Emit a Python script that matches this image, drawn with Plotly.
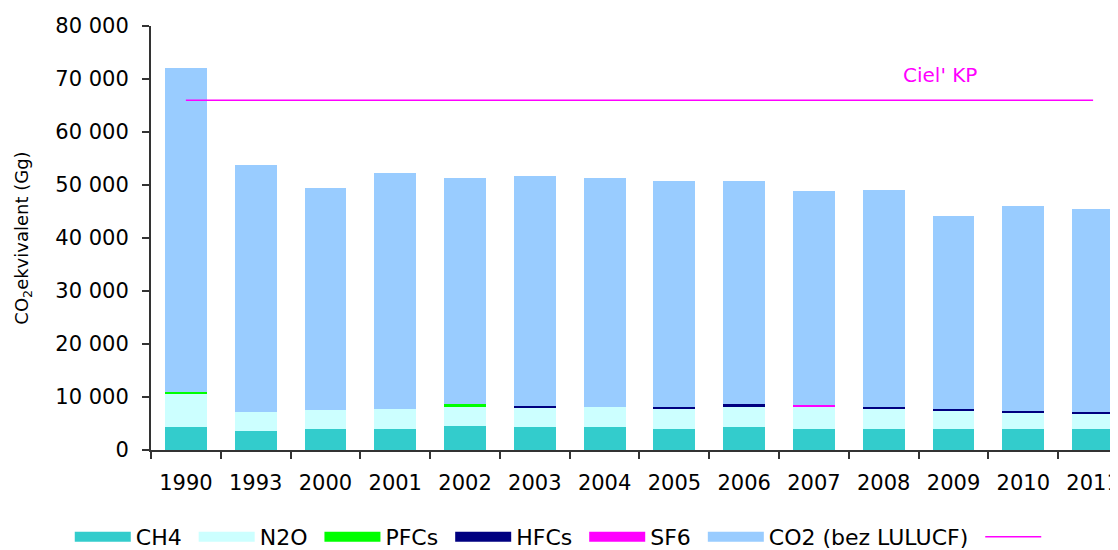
import plotly.graph_objects as go

years = ["1990", "1993", "2000", "2001", "2002", "2003", "2004", "2005", "2006", "2007", "2008", "2009", "2010", "2011"]
totals = [72000, 53700, 49400, 52300, 51400, 51700, 51300, 50700, 50700, 48800, 49100, 44100, 46100, 45400]
ch4 = [4300, 3600, 3900, 3900, 4500, 4300, 4300, 3900, 4300, 3900, 3900, 3900, 3900, 3900]
n2o = [6300, 3600, 3600, 3900, 3800, 3750, 3900, 4000, 4000, 4300, 3900, 3600, 3200, 2950]
pfcs = [300, 0, 0, 0, 300, 0, 0, 0, 0, 0, 0, 0, 0, 0]
hfcs = [0, 0, 0, 0, 0, 300, 0, 300, 300, 0, 300, 300, 300, 300]
sf6 = [0, 0, 0, 0, 0, 0, 0, 0, 0, 300, 0, 0, 0, 0]
co2 = [t - a - b - c - d - e for t, a, b, c, d, e in zip(totals, ch4, n2o, pfcs, hfcs, sf6)]
target = [66000] * len(years)

series = [
    ("CH4", ch4, "#33CCCC"),
    ("N2O", n2o, "#CCFFFF"),
    ("PFCs", pfcs, "#00FF00"),
    ("HFCs", hfcs, "#000080"),
    ("SF6", sf6, "#FF00FF"),
    ("CO2 (bez LULUCF)", co2, "#99CCFF"),
]

FONT = "DejaVu Sans"

fig = go.Figure()
for name, vals, col in series:
    fig.add_trace(go.Bar(x=years, y=vals, name=name, legendgroup=name, showlegend=False,
                         marker=dict(color=col, line=dict(width=0)), width=0.6))
# legend swatches (wide rectangles like the reference)
for name, vals, col in series:
    fig.add_trace(go.Scatter(x=[None], y=[None], mode="lines", name=name + "\u00a0",
                             legendgroup=name, line=dict(color=col, width=14), hoverinfo="skip"))

fig.add_trace(go.Scatter(x=years, y=target, mode="lines", name=" ",
                         line=dict(color="#FF00FF", width=1.5)))

fig.add_annotation(x=10.8, y=70700, text="Ciel' KP", showarrow=False,
                   font=dict(color="#FF00FF", size=20, family=FONT))

fig.update_layout(
    barmode="stack",
    width=1110, height=542,
    margin=dict(l=143, r=0, t=18, b=100, autoexpand=False),
    plot_bgcolor="white", paper_bgcolor="white",
    font=dict(family=FONT, size=20, color="black"),
    showlegend=True,
    legend=dict(orientation="h", x=-0.084, xanchor="left", y=-0.205, yanchor="middle",
                font=dict(size=22), traceorder="normal", itemwidth=56,
                bgcolor="rgba(0,0,0,0)"),
    xaxis=dict(type="category", range=[-0.5, 13.357], showline=True, linecolor="#333",
               linewidth=2, ticks="outside", tickson="boundaries", ticklen=7,
               tickcolor="#333", tickwidth=2, showgrid=False, tickfont=dict(size=21),
               automargin=False, ticklabelstandoff=13),
    yaxis=dict(range=[0, 80000], dtick=10000, showline=True, linecolor="#333", linewidth=2,
               ticks="outside", ticklen=7, tickcolor="#333", tickwidth=2, showgrid=False,
               zeroline=False, tickformat=",d", separatethousands=True,
               tickfont=dict(size=21), automargin=False, ticklabelstandoff=9,
               title=dict(text="CO<sub>2</sub>ekvivalent (Gg)", font=dict(size=18), standoff=22)),
    separators=". ",
)

fig.write_html("out.html")
